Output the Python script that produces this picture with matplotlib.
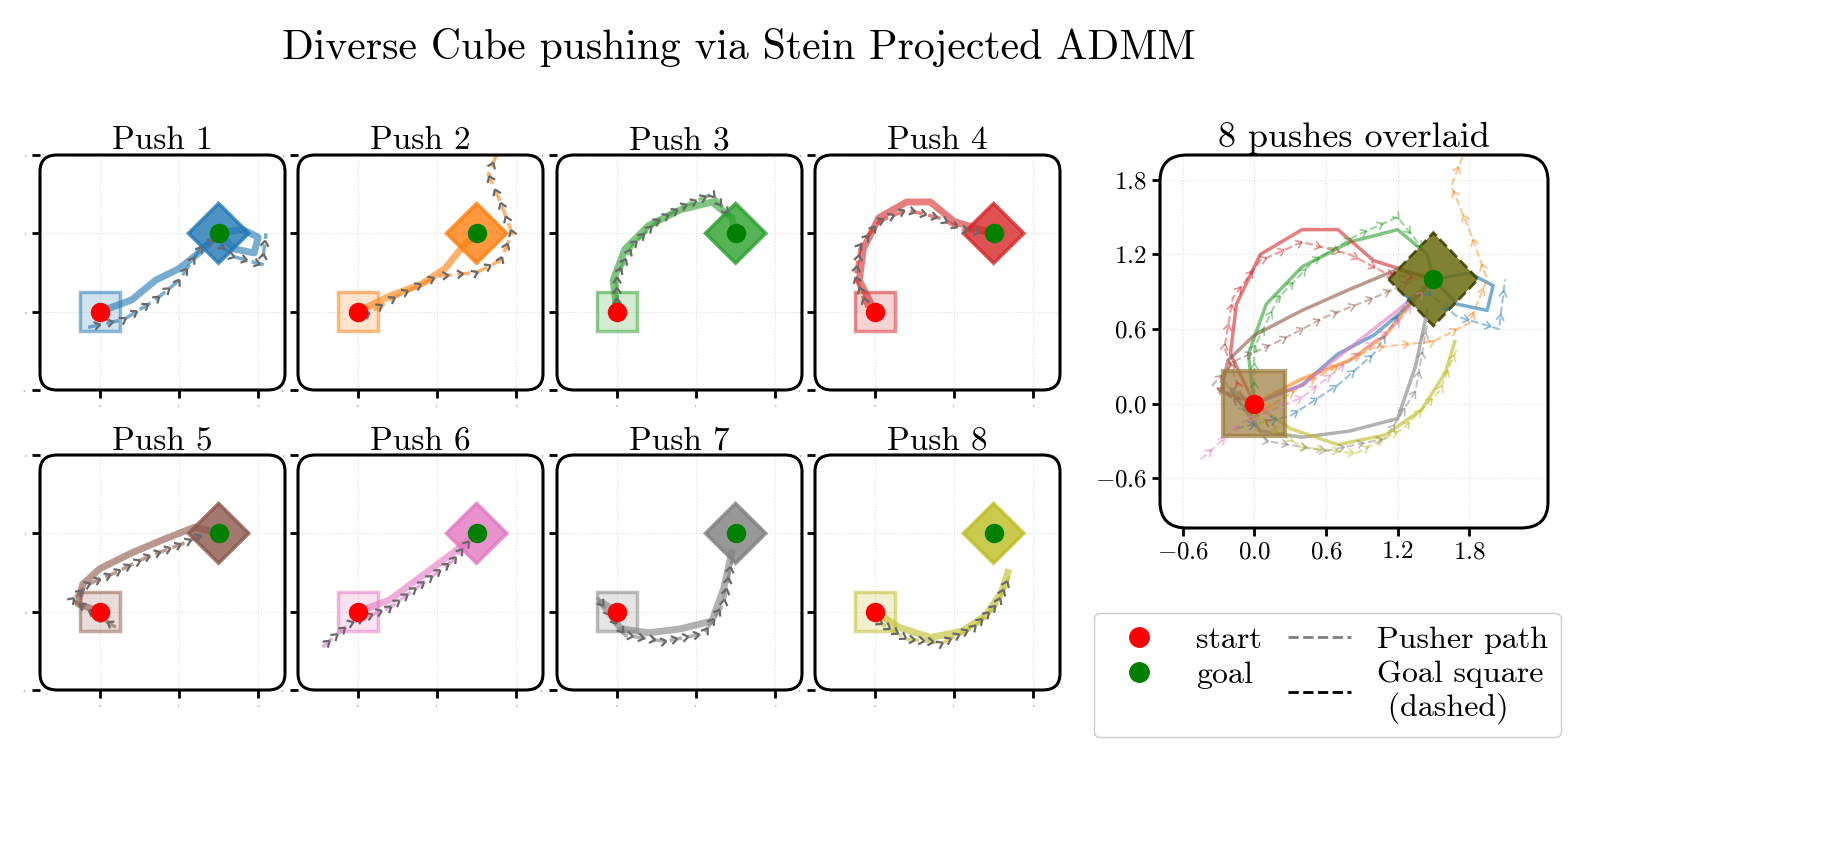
import numpy as np
import matplotlib
matplotlib.use("Agg")
import matplotlib.pyplot as plt
from matplotlib.patches import FancyBboxPatch, Rectangle, Polygon
from matplotlib.lines import Line2D
from matplotlib.collections import LineCollection

plt.rcParams['font.family'] = ['cmr10', 'DejaVu Serif']
plt.rcParams['mathtext.fontset'] = 'cm'
plt.rcParams['axes.formatter.use_mathtext'] = True

colors = ['#1f77b4', '#ff7f0e', '#2ca02c', '#d62728', '#8c564b', '#e377c2', '#7f7f7f', '#bcbd22']
start = (0.0, 0.0)
goal = (1.5, 1.0)

object_paths = [
    [(0, 0), (0.4, 0.15), (0.7, 0.4), (1.0, 0.55), (1.25, 0.75), (1.5, 1.0), (1.8, 1.05), (2.0, 0.95), (1.95, 0.75), (1.7, 0.8), (1.5, 1.0)],
    [(0, 0), (0.4, 0.2), (0.8, 0.35), (1.1, 0.55), (1.3, 0.8), (1.5, 1.0)],
    [(0, 0), (-0.05, 0.4), (0.1, 0.8), (0.4, 1.1), (0.8, 1.3), (1.2, 1.4), (1.45, 1.2), (1.5, 1.0)],
    [(0, 0), (-0.2, 0.4), (-0.15, 0.8), (0.05, 1.2), (0.4, 1.4), (0.7, 1.4), (1.0, 1.15), (1.5, 1.0)],
    [(0, 0), (-0.28, 0.1), (-0.22, 0.35), (0.0, 0.55), (0.4, 0.75), (0.8, 0.92), (1.2, 1.08), (1.5, 1.0)],
    [(0, 0), (0.4, 0.15), (0.8, 0.45), (1.2, 0.75), (1.5, 1.0)],
    [(0, 0), (-0.2, 0.12), (0.05, -0.22), (0.4, -0.27), (0.8, -0.22), (1.2, -0.12), (1.35, 0.3), (1.45, 0.75)],
    [(0, 0), (0.3, -0.2), (0.7, -0.33), (1.1, -0.25), (1.4, -0.05), (1.6, 0.25), (1.68, 0.5)],
]
pusher_paths = [
    [(-0.15, -0.2), (0.3, -0.1), (0.7, 0.15), (1.0, 0.4), (1.3, 0.85), (1.45, 0.9), (1.7, 0.7), (2.05, 0.6), (2.1, 1.0)],
    [(0.0, -0.1), (0.5, 0.2), (1.0, 0.45), (1.5, 0.5), (1.8, 0.65), (1.95, 1.0), (1.8, 1.4), (1.65, 1.75), (1.75, 2.0)],
    [(0.0, 0.05), (0.0, 0.45), (0.2, 0.85), (0.5, 1.15), (0.85, 1.35), (1.2, 1.5), (1.45, 1.2)],
    [(-0.1, 0.05), (-0.25, 0.45), (-0.18, 0.85), (0.05, 1.15), (0.4, 1.3), (0.8, 1.2), (1.1, 1.05), (1.4, 1.0)],
    [(0.2, -0.2), (-0.35, 0.15), (-0.15, 0.35), (0.2, 0.5), (0.6, 0.7), (1.0, 0.85), (1.35, 1.0)],
    [(-0.45, -0.45), (-0.1, -0.15), (0.4, 0.05), (0.8, 0.35), (1.2, 0.65), (1.45, 0.95)],
    [(-0.25, 0.18), (0.1, -0.3), (0.6, -0.38), (1.1, -0.28), (1.35, 0.1), (1.45, 0.65)],
    [(0.0, -0.1), (0.4, -0.35), (0.85, -0.4), (1.25, -0.2), (1.55, 0.1), (1.7, 0.45)],
]
small_ticks = [0, 1, 2]
overlay_ticks = [-0.6, 0.0, 0.6, 1.2, 1.8]
sq = 0.5

fig = plt.figure(figsize=(18.24, 8.65), dpi=100)
fig.text(0.405, 0.945, 'Diverse Cube pushing via Stein Projected ADMM', ha='center', va='center', fontsize=30)

def frame(ax):
    for s in ax.spines.values():
        s.set_visible(False)
    ax.add_patch(FancyBboxPatch((0, 0), 1, 1, boxstyle='round,pad=0,rounding_size=0.07',
                                transform=ax.transAxes, fill=False, lw=2.2, ec='black', clip_on=False, zorder=10))
    ax.grid(True, ls=':', color='#dddddd', lw=0.8)

def chevrons(ax, pts, n, color='dimgray', alpha=1.0, size=0.09, lw=1.6):
    pts = np.array(pts, float)
    seg = np.diff(pts, axis=0)
    L = np.r_[0, np.cumsum(np.hypot(seg[:, 0], seg[:, 1]))]
    s = np.linspace(0.05 * L[-1], 0.97 * L[-1], n)
    x = np.interp(s, L, pts[:, 0]); y = np.interp(s, L, pts[:, 1])
    idx = np.clip(np.searchsorted(L, s) - 1, 0, len(seg) - 1)
    d = seg[idx] / np.hypot(seg[idx, 0], seg[idx, 1])[:, None]
    lines = []
    for xi, yi, (dx, dy) in zip(x, y, d):
        for a in (0.6, -0.6):
            ca, sa = np.cos(a), np.sin(a)
            bx = -(dx * ca - dy * sa); by = -(dx * sa + dy * ca)
            lines.append([(xi + bx * size, yi + by * size), (xi, yi)])
    ax.add_collection(LineCollection(lines, colors=color, alpha=alpha, lw=lw, zorder=6))

def diamond(cx, cy, side):
    h = side / np.sqrt(2)
    return [(cx - h, cy), (cx, cy + h), (cx + h, cy), (cx, cy - h)]

xs0 = [40, 298, 557, 815]
for i in range(8):
    r, c = divmod(i, 4)
    top = 155 if r == 0 else 455
    ax = fig.add_axes([xs0[c] / 1824, 1 - (top + 235) / 865, 245 / 1824, 235 / 865])
    col = colors[i]
    frame(ax)
    ax.set_xlim(-0.76, 2.34); ax.set_ylim(-0.97, 2.0)
    ax.set_xticks(small_ticks); ax.set_yticks([-1, 0, 1, 2])
    ax.tick_params(length=6, width=2, labelsize=2)
    op = np.array(object_paths[i]); pp = np.array(pusher_paths[i])
    ax.plot(op[:, 0], op[:, 1], color=col, lw=5, alpha=0.6, zorder=4)
    ax.plot(pp[:, 0], pp[:, 1], color=col, lw=2.5, ls='--', alpha=0.6, zorder=4)
    chevrons(ax, pp, 18)
    ax.add_patch(Rectangle((start[0] - sq / 2, start[1] - sq / 2), sq, sq, fc=col, alpha=0.2, zorder=3))
    ax.add_patch(Rectangle((start[0] - sq / 2, start[1] - sq / 2), sq, sq, fill=False, ec=col, lw=2.5, alpha=0.5, zorder=3))
    ax.add_patch(Polygon(diamond(*goal, 0.54), closed=True, fc=col, ec=col, lw=2.5, alpha=0.8, zorder=5))
    ax.plot(*start, 'o', color='red', ms=13, zorder=8)
    ax.plot(*goal, 'o', color='green', ms=13, zorder=8)
    ax.set_title(f'Push {i + 1}', fontsize=24, pad=3)

ax = fig.add_axes([1160 / 1824, 1 - 528 / 865, 388 / 1824, 373 / 865])
frame(ax)
ax.set_xlim(-0.79, 2.46); ax.set_ylim(-1.0, 2.0)
ax.set_xticks(overlay_ticks); ax.set_yticks(overlay_ticks)
ax.tick_params(length=6, width=2, labelsize=18)
for i in range(8):
    col = colors[i]
    op = np.array(object_paths[i]); pp = np.array(pusher_paths[i])
    ax.plot(op[:, 0], op[:, 1], color=col, lw=2.5, alpha=0.6, zorder=4)
    ax.plot(pp[:, 0], pp[:, 1], color=col, lw=1.5, ls='--', alpha=0.45, zorder=4)
    chevrons(ax, pp, 16, color=col, alpha=0.5, size=0.06, lw=1.2)
ax.add_patch(Rectangle((start[0] - 0.26, start[1] - 0.26), 0.52, 0.52, fc='#9c7b3c', ec='#9c7b3c', lw=3, alpha=0.7, zorder=5))
ax.add_patch(Polygon(diamond(*goal, 0.53), closed=True, fc='#6b6b10', ec='#3a3a00', lw=2, ls='--', alpha=0.85, zorder=5))
ax.plot(*start, 'o', color='red', ms=13, zorder=8)
ax.plot(*goal, 'o', color='green', ms=13, zorder=8)
ax.set_title('8 pushes overlaid', fontsize=26, pad=6)

handles = [Line2D([], [], marker='o', color='red', ls='', ms=14),
           Line2D([], [], marker='o', color='green', ls='', ms=14),
           Line2D([], [], color='gray', ls='--', lw=2),
           Line2D([], [], color='black', ls='--', lw=2)]
labels = ['start', 'goal', 'Pusher path', 'Goal square\n (dashed)']
fig.legend(handles, labels, ncol=2, loc='upper left', bbox_to_anchor=(1078 / 1824, 1 - 597 / 865),
           fontsize=23, frameon=True, fancybox=True, edgecolor='#cccccc', framealpha=1,
           handlelength=2, columnspacing=0.8, borderpad=0.4, labelspacing=0.2)

fig.savefig('out.png', dpi=100)
